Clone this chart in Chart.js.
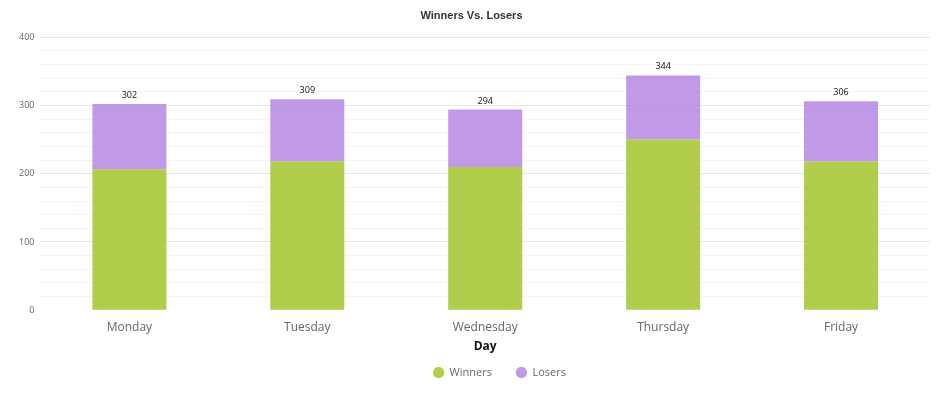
<!DOCTYPE html>
<html>
<head>
<meta charset="utf-8">
<script src="https://cdn.jsdelivr.net/npm/chart.js@4"></script>
<style>
	html, body { margin: 0; padding: 0; background: #fff; }
	#wrap { width: 936px; height: 396px; }
</style>
</head>
<body>
<div id="wrap"><canvas id="chart" width="936" height="396"></canvas></div>
<script>
const days = ["Monday", "Tuesday", "Wednesday", "Thursday", "Friday"];
const winners = [206, 218, 210, 250, 218];
const losers = [96, 91, 84, 94, 88];

// totals drawn above each stack
const totalsPlugin = {
	id: "totals",
	afterDatasetsDraw(chart) {
		const ctx = chart.ctx;
		const meta = chart.getDatasetMeta(1);
		ctx.save();
		ctx.font = "9px 'Open Sans', sans-serif";
		ctx.fillStyle = "#111";
		ctx.textAlign = "center";
		ctx.textBaseline = "bottom";
		meta.data.forEach(function (bar, i) {
			const total = winners[i] + losers[i];
			ctx.fillText(total, bar.x, bar.y - 4);
		});
		ctx.restore();
	},
};

// nudge the legend box a bit (up and to the right) after layout
const legendShift = {
	id: "legendShift",
	afterLayout(chart) {
		const lg = chart.legend;
		if (!lg) return;
		lg.top -= 11;
		lg.bottom -= 11;
		lg.left += 28;
		lg.right += 28;
	},
};

const config = {
	type: "bar",
	data: {
		labels: days,
		datasets: [
			{
				label: "Winners",
				data: winners,
				backgroundColor: "rgba(163, 198, 45, 0.86)",
				borderWidth: 0,
				barPercentage: 0.52,
				categoryPercentage: 0.8,
			},
			{
				label: "Losers",
				data: losers,
				backgroundColor: "rgba(180, 133, 226, 0.84)",
				borderWidth: 0,
				barPercentage: 0.52,
				categoryPercentage: 0.8,
			},
		],
	},
	options: {
		responsive: false,
		animation: false,
		layout: {
			padding: { left: 13, right: 6, top: 2, bottom: 2 },
		},
		scales: {
			x: {
				stacked: true,
				grid: { display: false },
				border: { display: false },
				ticks: {
					color: "#666",
					font: { family: "'Open Sans', sans-serif", size: 12 },
					padding: 2,
				},
				title: {
					display: true,
					text: "Day",
					color: "#111",
					font: { family: "'Open Sans', sans-serif", size: 12, weight: "bold" },
					padding: { top: 3, bottom: 0 },
				},
			},
			y: {
				stacked: true,
				min: 0,
				max: 400,
				border: { display: false },
				grid: {
					color: function (c) {
						if (c.tick.value === 0) return "rgba(0,0,0,0)";
						return c.tick.value % 100 === 0 ? "#e6e6e6" : "#f4f4f4";
					},
					lineWidth: 1,
					drawTicks: false,
				},
				ticks: {
					stepSize: 20,
					autoSkip: false,
					padding: 6,
					color: "#666",
					font: { family: "'Open Sans', sans-serif", size: 9 },
					callback: function (v) {
						return v % 100 === 0 ? v : "";
					},
				},
			},
		},
		plugins: {
			title: {
				display: true,
				text: "Winners Vs. Losers",
				color: "#333",
				font: { family: "'Liberation Sans', Arial, sans-serif", size: 11, weight: "bold" },
				padding: { top: 7, bottom: 15 },
			},
			legend: {
				position: "bottom",
				maxHeight: 40,
				labels: {
					usePointStyle: true,
					pointStyle: "circle",
					boxWidth: 12,
					boxHeight: 8,
					padding: 24,
					color: "#666",
					font: { family: "'Open Sans', sans-serif", size: 11 },
				},
			},
			tooltip: { enabled: false },
		},
	},
	plugins: [totalsPlugin, legendShift],
};

const ctx = document.getElementById("chart").getContext("2d");
new Chart(ctx, config);
</script>
</body>
</html>
